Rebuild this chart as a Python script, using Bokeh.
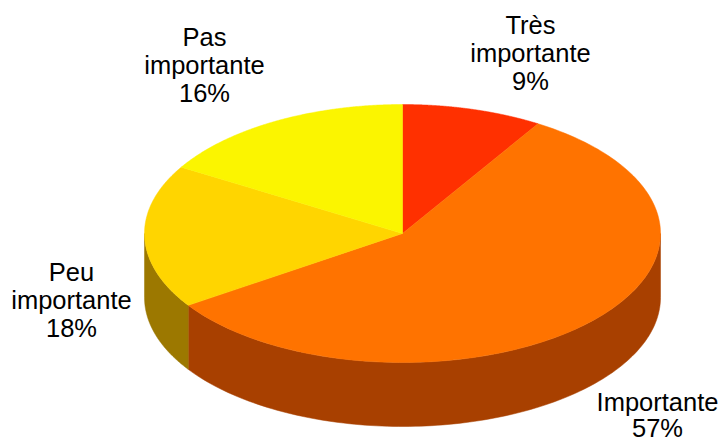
import numpy as np
from bokeh.plotting import figure
from bokeh.embed import file_html
from bokeh.resources import INLINE
from bokeh.core.properties import value

categories = ["Très importante", "Importante", "Peu importante", "Pas importante"]
shares = [8.8, 56.8, 18.0, 16.4]
tops = ["#FF3000", "#FF7300", "#FFD500", "#FBF500"]
sides = ["#A83000", "#A84000", "#9C7800", "#A09800"]
label_lines = [["Très", "importante", "9%"], ["Importante", "57%"], ["Peu", "importante", "18%"], ["Pas", "importante", "16%"]]
label_x = [530, 657, 71, 204]
label_y = [24, 401, 271, 36]
label_gap = [28.2, 26, 28.2, 28.2]

CX, CY, RX, RY, DEPTH = 402, 233, 258, 129, 64

W, H = 720, 443
p = figure(width=W, height=H, x_range=(0, W), y_range=(H, 0), output_backend="svg",
           toolbar_location=None, min_border=0, outline_line_color=None)
p.axis.visible = False
p.grid.visible = False
p.background_fill_color = "white"


def pt(a):
    # a: clockwise from top, radians
    return CX + RX * np.sin(a), CY - RY * np.cos(a)


edges = np.cumsum([0] + shares) / sum(shares) * 2 * np.pi

# side walls (visible only on the front half: pi/2 .. 3pi/2)
for i, col in enumerate(sides):
    a0, a1 = max(edges[i], np.pi / 2), min(edges[i + 1], 3 * np.pi / 2)
    if a1 <= a0:
        continue
    t = np.linspace(a0, a1, 120)
    x, y = pt(t)
    p.patch(np.r_[x, x[::-1]], np.r_[y, y[::-1] + DEPTH], fill_color=col, line_color=col, line_width=0.5)

# top faces
for i, col in enumerate(tops):
    t = np.linspace(edges[i], edges[i + 1], 200)
    x, y = pt(t)
    p.patch(np.r_[CX, x], np.r_[CY, y], fill_color=col, line_color=col, line_width=0.5)

# labels
for lines, lx, ly, gap in zip(label_lines, label_x, label_y, label_gap):
    for k, s in enumerate(lines):
        p.text([lx], [ly + k * gap], text=[s], text_align="center", text_baseline="middle",
               text_font=value("Liberation Sans"), text_font_size="25.5px", text_color="black")

open("out.html", "w").write(file_html(p, INLINE))
